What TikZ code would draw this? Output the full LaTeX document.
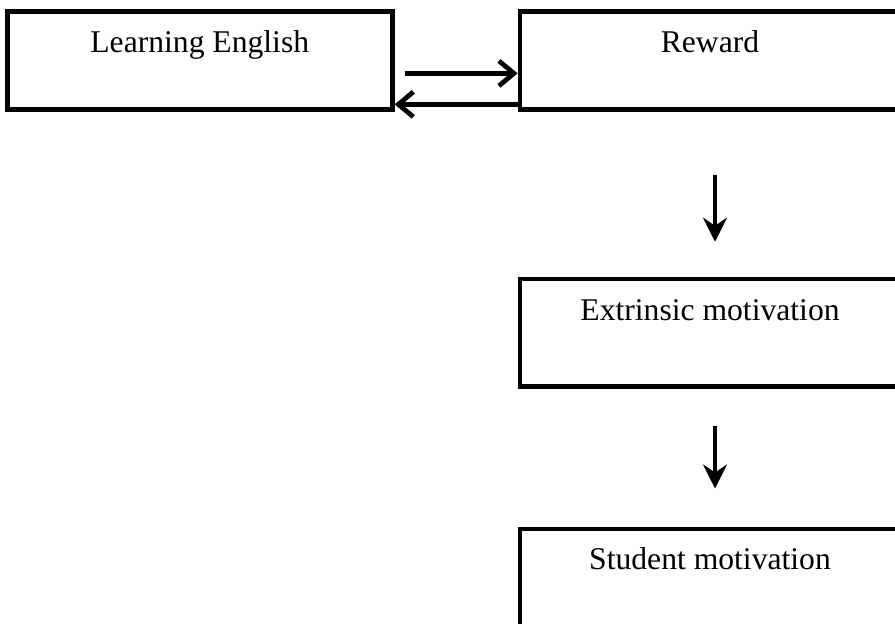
\documentclass[tikz,border=0pt]{standalone}
\usepackage{fontspec}
\setmainfont{Liberation Serif}
\usetikzlibrary{arrows.meta,positioning}

\begin{document}
\begin{tikzpicture}[
    box/.style={rectangle,draw,line width=2.7pt,inner sep=0pt,text height=0.82cm,font=\fontsize{18}{21.6}\selectfont},
    flow/.style={line width=2.7pt,-{Straight Barb[length=0.3cm,width=0.5cm]}},
    down/.style={line width=2.7pt,-{Stealth[length=0.48cm,width=0.48cm,inset=0.16cm]}}
]
    \clip (0,0) rectangle (17.9,-12.46);

    % Top row
    \node[box,text depth=1.14cm,minimum width=7.6cm,anchor=north] (reward) at (14.2,-0.18) {Reward};
    \node[box,text depth=1.14cm,minimum width=7.7cm,left=2.46cm of reward] (learn) {Learning English};

    % Two way arrows
    \draw[flow] ([xshift=0.2cm,yshift=-0.26cm]learn.east) -- ([yshift=-0.26cm]reward.west);
    \draw[flow] ([yshift=-0.88cm]reward.west) -- ([yshift=-0.88cm]learn.east);

    % Column below reward
    \node[box,text depth=1.32cm,minimum width=7.6cm,below=3.3cm of reward] (extr) {Extrinsic motivation};
    \node[box,text depth=1.6cm,minimum width=7.6cm,below=2.76cm of extr] (student) {Student motivation};

    \draw[down] ([xshift=0.1cm,yshift=-1.26cm]reward.south) -- ([xshift=0.1cm,yshift=0.7cm]extr.north);
    \draw[down] ([xshift=0.1cm,yshift=-0.74cm]extr.south) -- ([xshift=0.1cm,yshift=0.76cm]student.north);
\end{tikzpicture}
\end{document}
